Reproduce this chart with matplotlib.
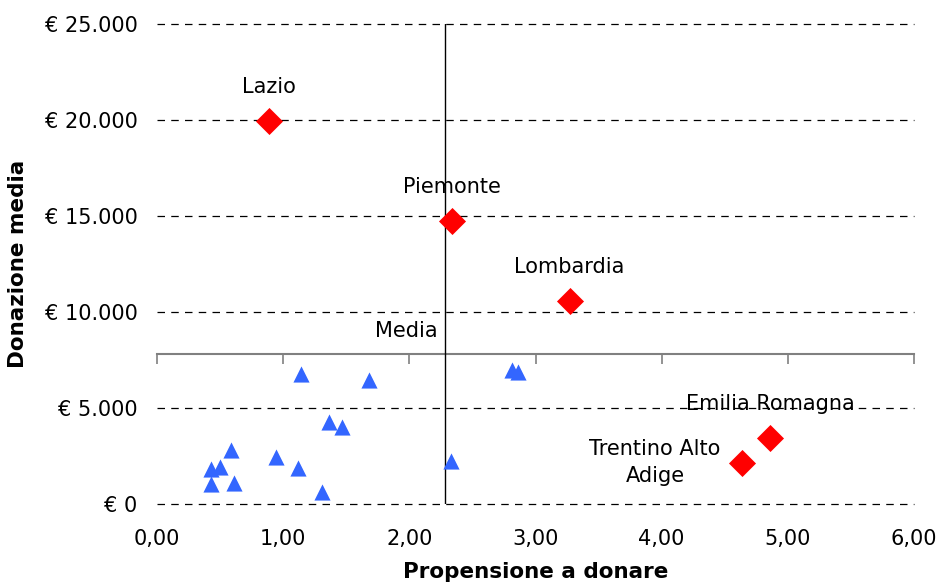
import matplotlib
matplotlib.use("Agg")
import matplotlib.pyplot as plt
from matplotlib.ticker import FuncFormatter, MultipleLocator

plt.rcParams['font.family'] = ['DejaVu Sans']

# Highlighted regions (red diamonds)
red_names = ["Lazio", "Piemonte", "Lombardia", "Emilia Romagna", "Trentino Alto\nAdige"]
red_x = [0.89, 2.34, 3.27, 4.86, 4.64]
red_y = [19950, 14750, 10550, 3450, 2150]

# Other regions (blue triangles)
blue_x = [1.14, 1.68, 2.81, 2.86, 1.36, 1.47, 0.59, 0.94, 0.43, 0.50, 1.12, 0.43, 0.61, 1.31, 2.33]
blue_y = [6750, 6450, 6980, 6900, 4290, 4030, 2810, 2430, 1820, 1910, 1860, 1060, 1110, 640, 2260]

mean_x = 2.28
mean_y = 7800

FS = 15

fig = plt.figure(figsize=(9.41, 5.83), dpi=100)
L, R, B, T = 157 / 941, 914 / 941, 1 - 504 / 583, 1 - 24 / 583
ax = fig.add_axes([L, B, R - L, T - B])

ax.set_xlim(0, 6)
ax.set_ylim(0, 25000)
ax.xaxis.set_major_locator(MultipleLocator(1))
ax.yaxis.set_major_locator(MultipleLocator(5000))

for s in ax.spines.values():
    s.set_visible(False)

ax.grid(axis='y', color='black', linestyle=(0, (6, 5)), linewidth=0.9)
ax.grid(axis='x', visible=False)
ax.set_axisbelow(True)
for gl in ax.get_ygridlines():
    gl.set_clip_on(False)

ax.axvline(mean_x, color='black', linewidth=1.0, zorder=2)

# secondary axis as the "Media" horizontal axis with ticks
sec = ax.secondary_xaxis(mean_y / 25000)
sec.xaxis.set_major_locator(MultipleLocator(1))
sec.tick_params(axis='x', direction='out', length=7, width=1.2, color='#808080',
                labelbottom=False, labeltop=False)
sec.spines['bottom'].set_color('#808080')
sec.spines['bottom'].set_linewidth(1.5)
sec.set_xticklabels([])

ax.tick_params(axis='both', length=0, labelsize=FS)
ax.tick_params(axis='y', pad=14)
ax.tick_params(axis='x', pad=18)

def yfmt(v, pos):
    return "€ " + f"{int(round(v)):,}".replace(",", ".")

def xfmt(v, pos):
    return f"{v:.2f}".replace(".", ",")

ax.yaxis.set_major_formatter(FuncFormatter(yfmt))
ax.xaxis.set_major_formatter(FuncFormatter(xfmt))

ax.scatter(blue_x, blue_y, marker='^', s=135, color='#3366FF', zorder=4, linewidths=0)
ax.scatter(red_x, red_y, marker='D', s=190, color='#FF0000', zorder=4, linewidths=0)

for name, x, y in zip(red_names, red_x, red_y):
    if name.startswith("Trentino"):
        ax.annotate(name, (x, y), xytext=(-63, 0), textcoords='offset points',
                    ha='center', va='center', fontsize=FS, linespacing=1.45)
    else:
        ax.annotate(name, (x, y), xytext=(0, 24.5), textcoords='offset points',
                    ha='center', va='center', fontsize=FS)

ax.text(mean_x - 0.055, mean_y + 1200, "Media", ha='right', va='center', fontsize=FS)

fig.text((157 + 914) / 2 / 941, 1 - 572 / 583, "Propensione a donare", ha='center', va='center',
         fontsize=15.5, fontweight='bold')
fig.text(18 / 941, 1 - 264 / 583, "Donazione media", ha='center', va='center',
         rotation=90, fontsize=15.5, fontweight='bold')

fig.savefig("out.png", dpi=100)
